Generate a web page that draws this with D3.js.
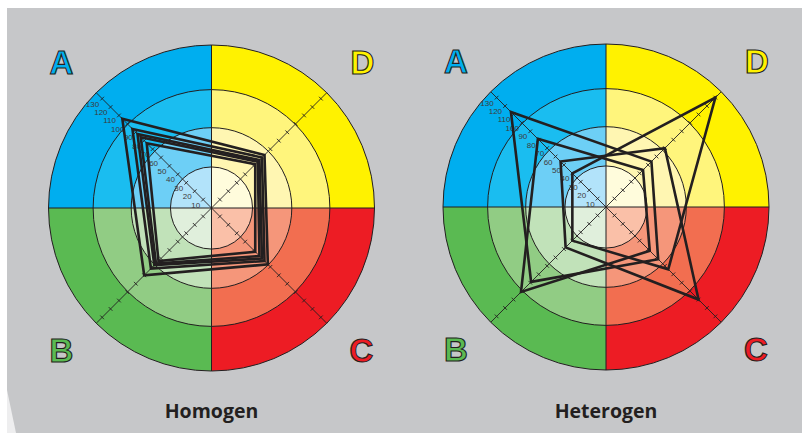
<!DOCTYPE html>
<html>
<head>
<meta charset="utf-8">
<script src="https://cdn.jsdelivr.net/npm/d3@7"></script>
<style>
  html, body { margin: 0; padding: 0; background: #fff; }
  svg { display: block; }
</style>
</head>
<body>
<div id="chart"></div>
<script>
// quadrants clockwise from top-left
const quadrants = ['A', 'D', 'C', 'B'];
// ring boundaries (same units as the axis)
const ringLevels = [34.5, 67.5, 99.5, 137];
const tickValues = [10, 20, 30, 40, 50, 60, 70, 80, 90, 100, 110, 120, 130];
const chartTitles = ['Homogen', 'Heterogen'];

// Homogen: one entry per profile
const homogenA = [106, 94, 88, 84, 77];
const homogenD = [63, 60, 57, 55, 52];
const homogenC = [67, 63, 60, 57, 52];
const homogenB = [80, 72, 68, 66, 63];

// Heterogen
const heterogenA = [113, 81, 40, 54];
const heterogenD = [54, 44, 130, 70];
const heterogenC = [62, 52, 74, 110];
const heterogenB = [89, 101, 40, 48];

const palette = {
  A: ['#00aeef', '#1abdf0', '#6dcff6', '#b2e3fa'],
  D: ['#fff200', '#fff57c', '#fff6b2', '#fffcdc'],
  C: ['#ed1c24', '#f26e50', '#f5967a', '#fac0a8'],
  B: ['#5aba52', '#91cc84', '#c1e2b9', '#e0efdc']
};
const ink = '#231f20';

const W = 802, H = 433;
const OUTER = 163;

const svg = d3.select('#chart').append('svg')
  .attr('width', W)
  .attr('height', H);

svg.append('rect')
  .attr('x', 7).attr('y', 8)
  .attr('width', W - 7).attr('height', H - 8)
  .attr('fill', '#c6c7c9');

svg.append('polygon')
  .attr('points', '7,390 16,433 7,433')
  .attr('fill', '#eeeeef');

function toProfiles(a, d, c, b) {
  return a.map((v, i) => ({ A: v, D: d[i], C: c[i], B: b[i] }));
}

// angle as used by d3.arc / d3.lineRadial (0 = up, clockwise)
const axisAngle = { A: -Math.PI / 4, D: Math.PI / 4, C: 3 * Math.PI / 4, B: 5 * Math.PI / 4 };
const quadStart = { A: -Math.PI / 2, D: 0, C: Math.PI / 2, B: Math.PI };

function drawChart(cx, cy, profiles, title) {
  const r = d3.scaleLinear().domain([0, ringLevels[ringLevels.length - 1]]).range([0, OUTER]);
  const g = svg.append('g').attr('transform', `translate(${cx},${cy})`);

  // coloured rings, outer to inner
  const arc = d3.arc();
  quadrants.forEach(q => {
    ringLevels.slice().reverse().forEach((lv, i) => {
      g.append('path')
        .attr('d', arc({ innerRadius: 0, outerRadius: r(lv), startAngle: quadStart[q], endAngle: quadStart[q] + Math.PI / 2 }))
        .attr('fill', palette[q][i]);
    });
  });

  g.selectAll('circle.ring')
    .data(ringLevels)
    .join('circle')
    .attr('class', 'ring')
    .attr('r', d => r(d))
    .attr('fill', 'none')
    .attr('stroke', ink)
    .attr('stroke-width', 1);

  // quadrant dividers
  g.append('line').attr('x1', 0).attr('x2', 0).attr('y1', -OUTER).attr('y2', OUTER)
    .attr('stroke', ink).attr('stroke-width', 1);
  g.append('line').attr('y1', 0).attr('y2', 0).attr('x1', -OUTER).attr('x2', OUTER)
    .attr('stroke', ink).attr('stroke-width', 1);

  // diagonal axes with ticks
  quadrants.forEach(q => {
    const a = axisAngle[q];
    const ux = Math.sin(a), uy = -Math.cos(a);
    g.append('line')
      .attr('x1', 0).attr('y1', 0)
      .attr('x2', ux * OUTER).attr('y2', uy * OUTER)
      .attr('stroke', ink).attr('stroke-width', 0.9);
    const nx = -uy, ny = ux;
    g.selectAll(`line.tick-${q}`)
      .data(tickValues)
      .join('line')
      .attr('class', `tick-${q}`)
      .attr('x1', d => ux * r(d) - nx * 2.6)
      .attr('y1', d => uy * r(d) - ny * 2.6)
      .attr('x2', d => ux * r(d) + nx * 2.6)
      .attr('y2', d => uy * r(d) + ny * 2.6)
      .attr('stroke', ink).attr('stroke-width', 0.9);
  });

  // labels on the A axis
  const la = axisAngle.A;
  g.selectAll('text.tick-label')
    .data(tickValues)
    .join('text')
    .attr('class', 'tick-label')
    .attr('x', d => Math.sin(la) * r(d) - 3)
    .attr('y', d => -Math.cos(la) * r(d) + 8)
    .attr('text-anchor', 'end')
    .attr('font-family', 'Liberation Sans, Arial, sans-serif')
    .attr('font-size', 8)
    .attr('fill', '#3d3b3c')
    .text(d => d);

  // profiles
  const line = d3.lineRadial()
    .angle(d => axisAngle[d.q])
    .radius(d => r(d.v))
    .curve(d3.curveLinearClosed);
  g.selectAll('path.profile')
    .data(profiles)
    .join('path')
    .attr('class', 'profile')
    .attr('d', p => line(quadrants.map(q => ({ q, v: p[q] }))))
    .attr('fill', 'none')
    .attr('stroke', ink)
    .attr('stroke-width', 2.6)
    .attr('stroke-linejoin', 'miter');

  // corner letters
  const letterPos = { A: [-150, -134], D: [151, -134], C: [150, 154], B: [-150, 154] };
  quadrants.forEach(q => {
    g.append('text')
      .attr('x', letterPos[q][0])
      .attr('y', letterPos[q][1])
      .attr('text-anchor', 'middle')
      .attr('font-family', 'Liberation Sans, Arial, sans-serif')
      .attr('font-weight', 'bold')
      .attr('font-size', 33)
      .attr('fill', palette[q][0])
      .attr('stroke', ink)
      .attr('stroke-width', 1.1)
      .text(q);
  });

  svg.append('text')
    .attr('x', cx)
    .attr('y', 418)
    .attr('text-anchor', 'middle')
    .attr('font-family', 'Open Sans, sans-serif')
    .attr('font-weight', 'bold')
    .attr('font-size', 19.5)
    .attr('fill', '#231f20')
    .text(title);
}

drawChart(211.5, 208, toProfiles(homogenA, homogenD, homogenC, homogenB), chartTitles[0]);
drawChart(606, 207, toProfiles(heterogenA, heterogenD, heterogenC, heterogenB), chartTitles[1]);
</script>
</body>
</html>
